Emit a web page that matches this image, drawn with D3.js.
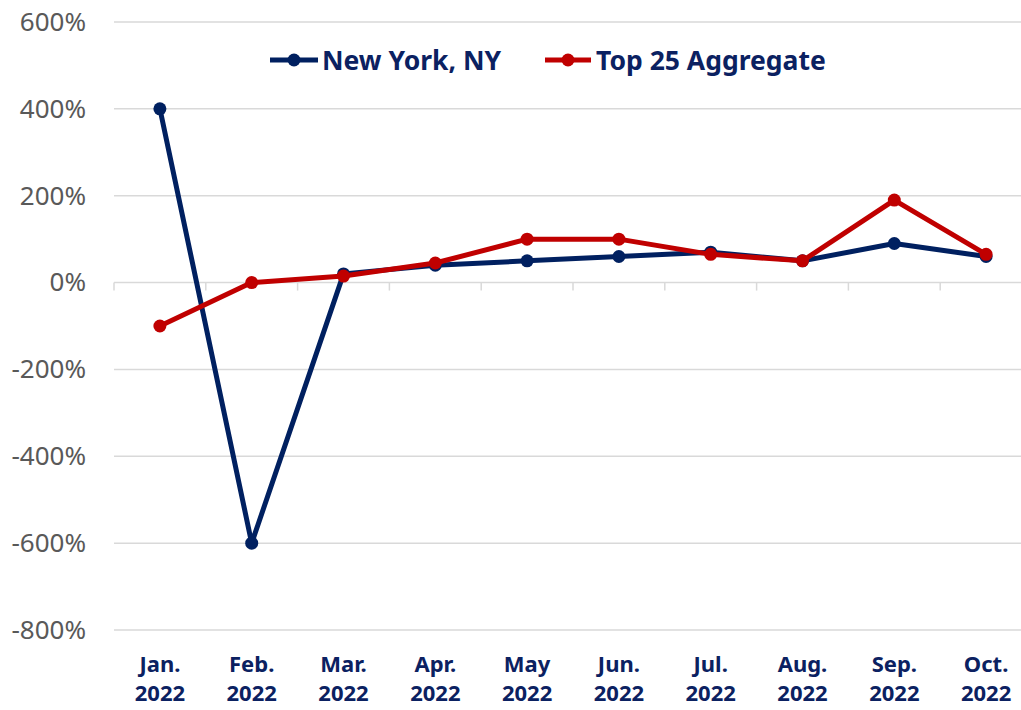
<!DOCTYPE html>
<html><head><meta charset="utf-8">
<script src="https://cdn.jsdelivr.net/npm/d3@7/dist/d3.min.js"></script>
<style>body{margin:0;background:#fff;} svg{display:block;}</style>
</head><body>
<svg id="chart" width="1021" height="710"></svg>
<script>
const months = ["Jan.","Feb.","Mar.","Apr.","May","Jun.","Jul.","Aug.","Sep.","Oct."];
const years = ["2022","2022","2022","2022","2022","2022","2022","2022","2022","2022"];
const newYork = [400,-600,20,40,50,60,70,50,90,60];
const top25 = [-100,0,15,45,100,100,65,50,190,65];
const yTicks = [-800,-600,-400,-200,0,200,400,600];
const seriesNames = ["New York, NY","Top 25 Aggregate"];
const colors = ["#002060","#c00000"];

const svg = d3.select("#chart");
const font = "'Noto Sans', 'Open Sans', sans-serif";
const x = d3.scaleBand().domain(months).range([114,1032]).padding(0);
const y = d3.scaleLinear().domain([-800,600]).range([630,22]);
const cx = m => x(m) + x.bandwidth()/2;

// gridlines
svg.append("g").selectAll("line").data(yTicks).join("line")
  .attr("x1",114).attr("x2",1021)
  .attr("y1",d=>y(d)).attr("y2",d=>y(d))
  .attr("stroke","#d9d9d9").attr("stroke-width",1.5);

// y axis labels
const yAxis = d3.axisLeft(y).tickValues(yTicks).tickSize(0).tickPadding(0).tickFormat(d=>d+"%");
const ga = svg.append("g").attr("transform","translate(86,0)").call(yAxis);
ga.select(".domain").remove();
ga.selectAll("text").attr("font-family",font).attr("font-size",26).attr("fill","#595959");

// x tick marks at band boundaries
const bounds = months.map(m=>x(m)).concat([x(months[months.length-1])+x.bandwidth()]);
svg.append("g").selectAll("line").data(bounds).join("line")
  .attr("x1",d=>d).attr("x2",d=>d).attr("y1",y(0)).attr("y2",y(0)+8)
  .attr("stroke","#d9d9d9").attr("stroke-width",1.5);

// x labels
const xl = svg.append("g").selectAll("text").data(months).join("text")
  .attr("x",d=>cx(d)).attr("text-anchor","middle")
  .attr("font-family",font).attr("font-size",22).attr("font-weight","bold").attr("fill","#0b2161");
xl.append("tspan").attr("x",d=>cx(d)).attr("y",672).text(d=>d);
xl.append("tspan").attr("x",d=>cx(d)).attr("y",701).text((d,i)=>years[i]);

// lines
const line = d3.line().x((d,i)=>cx(months[i])).y(d=>y(d));
[newYork, top25].forEach((s,k)=>{
  svg.append("path").datum(s).attr("d",line).attr("fill","none")
    .attr("stroke",colors[k]).attr("stroke-width",5).attr("stroke-linejoin","round");
  svg.append("g").selectAll("circle").data(s).join("circle")
    .attr("cx",(d,i)=>cx(months[i])).attr("cy",d=>y(d)).attr("r",6.5).attr("fill",colors[k]);
});

// legend
const leg = [{x1:270,x2:318,tx:322},{x1:545,x2:591,tx:596}];
leg.forEach((l,k)=>{
  const g = svg.append("g");
  g.append("line").attr("x1",l.x1).attr("x2",l.x2).attr("y1",60).attr("y2",60)
    .attr("stroke",colors[k]).attr("stroke-width",5);
  g.append("circle").attr("cx",(l.x1+l.x2)/2).attr("cy",60).attr("r",6.5).attr("fill",colors[k]);
  g.append("text").attr("x",l.tx).attr("y",70).attr("font-family",font).attr("font-size",26.5)
    .attr("font-weight","bold").attr("fill","#0b2161").text(seriesNames[k]);
});
</script>
</body></html>
